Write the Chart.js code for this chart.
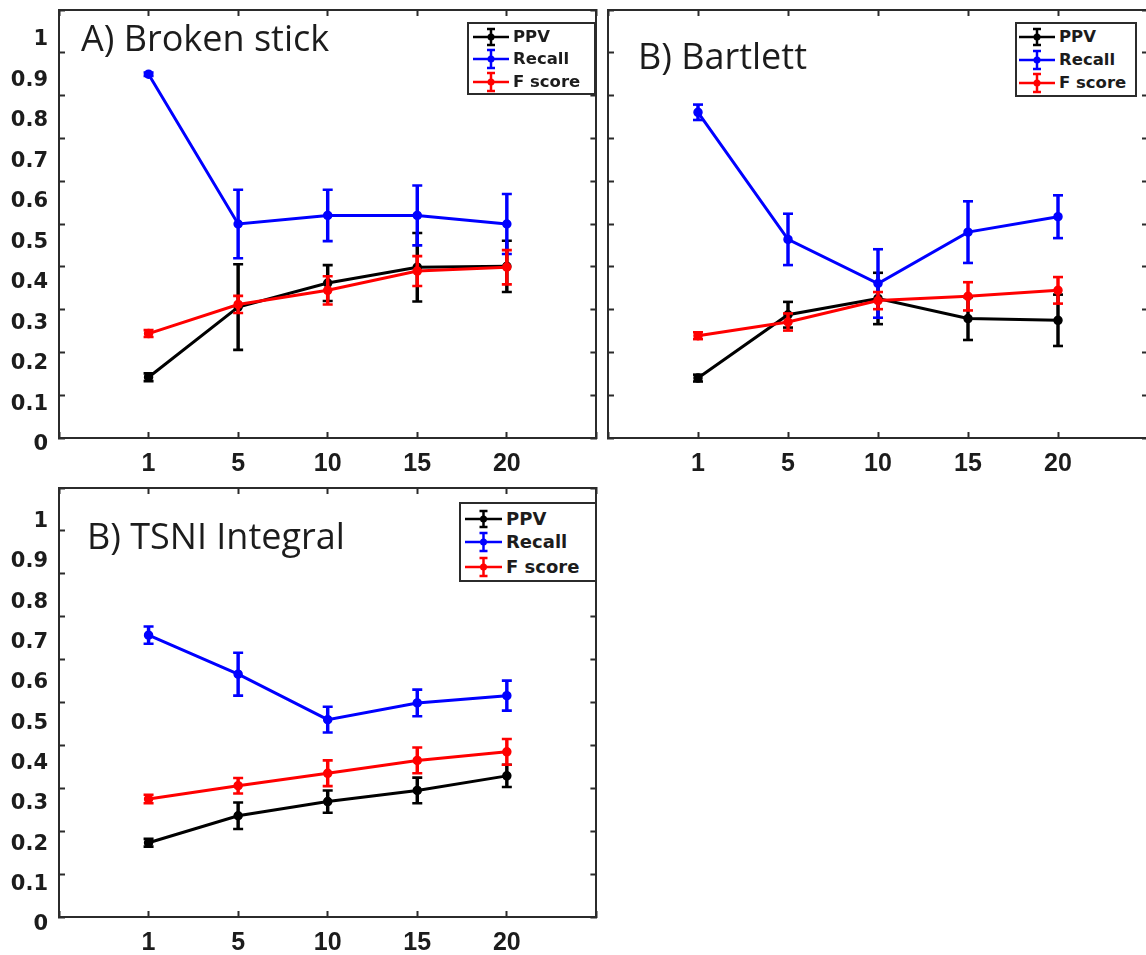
<!DOCTYPE html>
<html>
<head>
<meta charset="utf-8">
<script src="https://cdn.jsdelivr.net/npm/chart.js@4.4.1/dist/chart.umd.min.js"></script>
<style>
  html, body { margin: 0; padding: 0; background: #ffffff; }
  body { width: 1146px; height: 955px; overflow: hidden; position: relative; }
  canvas { position: absolute; }
  .title { position: absolute; font-family: 'Open Sans', 'Noto Sans', sans-serif; font-size: 36px; line-height: 36px;
           color: #1c1c1c; white-space: nowrap; }
  .legend { position: absolute; border: 2px solid #2b2b2b; background: #ffffff; box-sizing: border-box; }
  .legend span { position: absolute; font-family: 'DejaVu Sans', sans-serif; font-weight: bold; color: #1c1c1c;
                 white-space: nowrap; line-height: 24px; height: 24px; }
  .legend svg { position: absolute; overflow: visible; }
</style>
</head>
<body>
<canvas id="cA" width="604" height="480" style="left:0px;top:0px"></canvas>
<canvas id="cB" width="560" height="480" style="left:600px;top:0px"></canvas>
<canvas id="cC" width="604" height="485" style="left:0px;top:470px"></canvas>

<div class="title" style="left:81px;top:20px">A) Broken stick</div>
<div class="title" style="left:638px;top:38px">B) Bartlett</div>
<div class="title" style="left:87px;top:518px">B) TSNI Integral</div>

<script>
// ---------------- data ----------------
const categories = ['1', '5', '10', '15', '20'];
const yTickLabels = ['0', '0.1', '0.2', '0.3', '0.4', '0.5', '0.6', '0.7', '0.8', '0.9', '1'];
const seriesNames = ['PPV', 'Recall', 'F score'];
const seriesColors = ['#000000', '#0000ff', '#ff0000'];

// A) Broken stick
const brokenPPV       = [0.142, 0.306, 0.362, 0.399, 0.401];
const brokenPPVErr    = [0.009, 0.100, 0.042, 0.080, 0.060];
const brokenRecall    = [0.850, 0.500, 0.520, 0.520, 0.500];
const brokenRecallErr = [0.004, 0.080, 0.060, 0.070, 0.070];
const brokenF         = [0.244, 0.312, 0.345, 0.390, 0.399];
const brokenFErr      = [0.008, 0.020, 0.033, 0.035, 0.040];

// B) Bartlett
const bartlettPPV       = [0.140, 0.288, 0.326, 0.279, 0.275];
const bartlettPPVErr    = [0.008, 0.030, 0.060, 0.050, 0.060];
const bartlettRecall    = [0.761, 0.464, 0.361, 0.481, 0.517];
const bartlettRecallErr = [0.018, 0.060, 0.080, 0.072, 0.050];
const bartlettF         = [0.239, 0.271, 0.321, 0.331, 0.345];
const bartlettFErr      = [0.008, 0.020, 0.020, 0.033, 0.031];

// B) TSNI Integral
const tsniPPV       = [0.173, 0.236, 0.269, 0.295, 0.329];
const tsniPPVErr    = [0.009, 0.031, 0.026, 0.030, 0.026];
const tsniRecall    = [0.657, 0.566, 0.460, 0.499, 0.516];
const tsniRecallErr = [0.020, 0.050, 0.030, 0.031, 0.035];
const tsniF         = [0.275, 0.306, 0.335, 0.365, 0.385];
const tsniFErr      = [0.010, 0.018, 0.030, 0.030, 0.030];

// ---------------- styling ----------------
const BOX = '#2b2b2b';
const TXT = '#1c1c1c';
const TICK = 6;

function buildDatasets(values, errors) {
  const ds = [];
  values.forEach((vals, s) => {
    const color = seriesColors[s];
    const base = (seriesNames.length - 1 - s) * 3; // later series drawn on top
    ds.push({
      type: 'line', label: seriesNames[s], xAxisID: 'x', yAxisID: 'y',
      data: vals.map((v, i) => ({ x: i + 1, y: v })),
      borderColor: color, backgroundColor: color, borderWidth: 3, tension: 0,
      pointStyle: 'circle', pointRadius: 4, pointBorderWidth: 1.5,
      pointBackgroundColor: color, pointBorderColor: color, order: base
    });
    ds.push({
      type: 'bar', label: seriesNames[s] + ' err', xAxisID: 'x', yAxisID: 'y',
      data: vals.map((v, i) => ({ x: i + 1, y: [v - errors[s][i], v + errors[s][i]] })),
      backgroundColor: color, borderWidth: 0, barThickness: 2.8, grouped: false, order: base + 1
    });
    const caps = [];
    vals.forEach((v, i) => {
      caps.push({ x: i + 1, y: v - errors[s][i] });
      caps.push({ x: i + 1, y: v + errors[s][i] });
    });
    ds.push({
      type: 'scatter', label: seriesNames[s] + ' caps', xAxisID: 'x', yAxisID: 'y',
      data: caps, showLine: false, pointStyle: 'line', pointRadius: 5,
      pointBorderWidth: 2.6, pointBorderColor: color, borderColor: color, order: base + 1
    });
  });
  return ds;
}

function tickGrid() {
  return { display: true, drawOnChartArea: false, drawTicks: true, tickLength: -TICK,
           tickColor: BOX, tickWidth: 2, offset: false };
}

function zeroPad(s) { s.paddingLeft = 0; s.paddingRight = 0; s.paddingTop = 0; s.paddingBottom = 0; }

function makePanel(canvasId, values, errors, L) {
  const scales = {
    x: {
      type: 'linear', position: 'bottom', min: 0, max: 6, offset: false,
      grid: tickGrid(), border: { display: true, color: BOX, width: 2 },
      ticks: { stepSize: 1, autoSkip: false, maxRotation: 0, minRotation: 0, padding: 17, color: TXT,
               font: { family: "'Liberation Sans', Arial, sans-serif", weight: 'bold', size: 25 },
               callback: (v) => categories[v - 1] !== undefined ? categories[v - 1] : '' },
      afterFit: (s) => { s.height = L.xAxisH; zeroPad(s); }
    },
    x2: {
      type: 'linear', position: 'top', min: 0, max: 6, offset: false,
      grid: tickGrid(), border: { display: true, color: BOX, width: 2 },
      ticks: { display: false, stepSize: 1 },
      afterFit: (s) => { s.height = 0; zeroPad(s); }
    },
    y: {
      type: 'linear', position: 'left', min: 0, max: 1, weight: 0,
      grid: tickGrid(), border: { display: true, color: BOX, width: 2 },
      ticks: { display: false, stepSize: 0.1 },
      afterFit: (s) => { s.width = 0; zeroPad(s); }
    },
    y2: {
      type: 'linear', position: 'right', min: 0, max: 1,
      grid: tickGrid(), border: { display: true, color: BOX, width: 2 },
      ticks: { display: false, stepSize: 0.1 },
      afterFit: (s) => { s.width = 0; zeroPad(s); }
    }
  };
  if (L.labels) {
    // label-only axis: tick labels in the reference sit on their own (slightly compressed) spacing
    const areaTop = L.padTop, areaBottom = L.canvasH - L.xAxisH;
    scales.yl = {
      type: 'linear', position: 'left', weight: 1,
      min: (L.zeroPx - areaBottom) / L.unitPx, max: (L.zeroPx - areaTop) / L.unitPx,
      grid: { display: false, drawTicks: false, tickLength: 0 }, border: { display: false },
      ticks: { autoSkip: false, padding: 11, color: TXT,
               font: { family: "'DejaVu Sans', sans-serif", weight: 'bold', size: 21 },
               callback: (v, i) => yTickLabels[i] },
      afterBuildTicks: (s) => { s.ticks = yTickLabels.map(t => ({ value: parseFloat(t) })); },
      afterFit: (s) => { s.width = L.labelW; zeroPad(s); }
    };
  }
  return new Chart(document.getElementById(canvasId), {
    type: 'line',
    data: { datasets: buildDatasets(values, errors) },
    options: {
      responsive: false, animation: false, devicePixelRatio: 1, events: [],
      layout: { padding: { left: L.padLeft, right: L.padRight, top: L.padTop, bottom: 0 } },
      plugins: { legend: { display: false }, tooltip: { enabled: false }, title: { display: false } },
      scales: scales
    }
  });
}

makePanel('cA', [brokenPPV, brokenRecall, brokenF], [brokenPPVErr, brokenRecallErr, brokenFErr],
  { labels: true, canvasH: 480, padTop: 10, padLeft: 0, padRight: 7, xAxisH: 42, labelW: 59, zeroPx: 445, unitPx: 405 });
makePanel('cB', [bartlettPPV, bartlettRecall, bartlettF], [bartlettPPVErr, bartlettRecallErr, bartlettFErr],
  { labels: false, canvasH: 480, padTop: 10, padLeft: 8, padRight: 12, xAxisH: 42 });
makePanel('cC', [tsniPPV, tsniRecall, tsniF], [tsniPPVErr, tsniRecallErr, tsniFErr],
  { labels: true, canvasH: 485, padTop: 18, padLeft: 0, padRight: 7, xAxisH: 38, labelW: 59, zeroPx: 455, unitPx: 403.3 });

// ---------------- legends ----------------
function makeLegend(cfg) {
  const box = document.createElement('div');
  box.className = 'legend';
  Object.assign(box.style, { left: cfg.left + 'px', top: cfg.top + 'px', width: cfg.width + 'px', height: cfg.height + 'px' });
  const B = 2;
  const svgNS = 'http://www.w3.org/2000/svg';
  seriesNames.forEach((name, s) => {
    const c = seriesColors[s];
    const cy = cfg.rows[s] - cfg.top - B;
    const svg = document.createElementNS(svgNS, 'svg');
    svg.setAttribute('width', cfg.symW);
    svg.setAttribute('height', 24);
    svg.style.left = (cfg.symLeft - cfg.left - B) + 'px';
    svg.style.top = (cy - 12) + 'px';
    const m = cfg.symW / 2, e = cfg.err[s];
    svg.innerHTML =
      `<line x1="0" y1="12" x2="${cfg.symW}" y2="12" stroke="${c}" stroke-width="2.5"/>` +
      `<line x1="${m}" y1="${12 - e}" x2="${m}" y2="${12 + e}" stroke="${c}" stroke-width="2.5"/>` +
      `<line x1="${m - 4}" y1="${12 - e}" x2="${m + 4}" y2="${12 - e}" stroke="${c}" stroke-width="2.5"/>` +
      `<line x1="${m - 4}" y1="${12 + e}" x2="${m + 4}" y2="${12 + e}" stroke="${c}" stroke-width="2.5"/>` +
      `<circle cx="${m}" cy="12" r="3.5" fill="${c}"/>`;
    box.appendChild(svg);
    const t = document.createElement('span');
    t.textContent = name;
    t.style.left = (cfg.textLeft - cfg.left - B) + 'px';
    t.style.top = (cy - 12) + 'px';
    t.style.fontSize = cfg.font + 'px';
    box.appendChild(t);
  });
  document.body.appendChild(box);
}

makeLegend({ left: 467, top: 22, width: 129, height: 73, rows: [37, 59, 81.5], symLeft: 473, symW: 36,
             textLeft: 513, font: 16.5, err: [8, 9, 9] });
makeLegend({ left: 1015, top: 22, width: 122, height: 75, rows: [37, 59.5, 82.5], symLeft: 1019, symW: 36,
             textLeft: 1059, font: 16.5, err: [8, 9, 9] });
makeLegend({ left: 459, top: 502, width: 138, height: 80, rows: [518.5, 541.5, 566.5], symLeft: 465, symW: 37,
             textLeft: 506, font: 18, err: [8, 9, 9] });
</script>
</body>
</html>
